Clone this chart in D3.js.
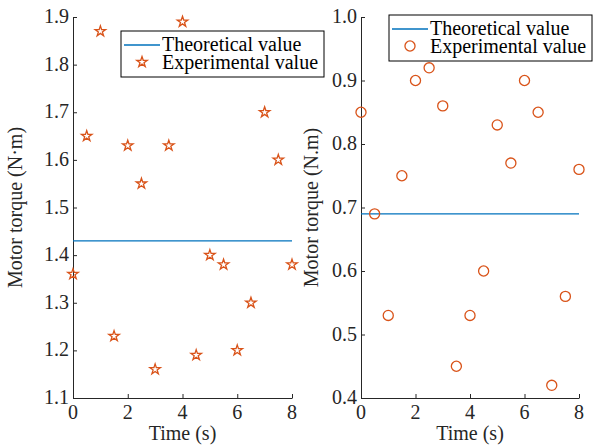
<html>
<head>
<meta charset="UTF-8" />
</head>
<body style="margin:0">
<script src="https://cdn.jsdelivr.net/npm/d3@7"></script>
<script>
var width = 600;
var height = 448;

// data
var time = [0, 0.5, 1, 1.5, 2, 2.5, 3, 3.5, 4, 4.5, 5, 5.5, 6, 6.5, 7, 7.5, 8];
var torqueLeft = [1.36, 1.65, 1.87, 1.23, 1.63, 1.55, 1.16, 1.63, 1.89, 1.19, 1.40, 1.38, 1.20, 1.30, 1.70, 1.60, 1.38];
var theoryLeft = 1.43;
var torqueRight = [0.85, 0.69, 0.53, 0.75, 0.90, 0.92, 0.86, 0.45, 0.53, 0.60, 0.83, 0.77, 0.90, 0.85, 0.42, 0.56, 0.76];
var theoryRight = 0.69;
var xTicks = [0, 2, 4, 6, 8];
var yTicksLeft = [1.1, 1.2, 1.3, 1.4, 1.5, 1.6, 1.7, 1.8, 1.9];
var yTicksRight = [0.4, 0.5, 0.6, 0.7, 0.8, 0.9, 1.0];
var legendLabels = ["Theoretical value", "Experimental value"];

var lineColor = "#0072BD";
var markColor = "#D95319";
var axisColor = "#262626";
var fontFamily = "Times New Roman, Liberation Serif, DejaVu Serif, serif";

var svg = d3.select("body")
			.append("svg")
			.attr("width", width)
			.attr("height", height);

function drawPanel(opt) {
	var x = d3.scaleLinear().domain([0, 8]).range([opt.left, opt.right]);
	var y = d3.scaleLinear().domain(opt.yDomain).range([398, 17]);
	var g = svg.append("g");

	// axes: d3 draws the lines, the labels are written below as plain texts
	g.append("g")
	 .attr("transform", "translate(0,398)")
	 .call(d3.axisBottom(x).tickValues(xTicks).tickSizeInner(-4).tickSizeOuter(0).tickFormat(""))
	 .call(a => a.selectAll("path, line").attr("stroke", axisColor));
	g.append("g")
	 .attr("transform", "translate(" + opt.left + ",0)")
	 .call(d3.axisLeft(y).tickValues(opt.yTicks).tickSizeInner(-4).tickSizeOuter(0).tickFormat(""))
	 .call(a => a.selectAll("path, line").attr("stroke", axisColor));

	g.selectAll(".xl")
	 .data(xTicks)
	 .enter()
	 .append("text")
	 .attr("x", d => x(d))
	 .attr("y", 419)
	 .attr("text-anchor", "middle")
	 .attr("font-family", fontFamily)
	 .attr("font-size", 20)
	 .attr("fill", axisColor)
	 .text(d => d);
	g.selectAll(".yl")
	 .data(opt.yTicks)
	 .enter()
	 .append("text")
	 .attr("x", opt.left - 4)
	 .attr("y", d => y(d) + 6)
	 .attr("text-anchor", "end")
	 .attr("font-family", fontFamily)
	 .attr("font-size", 20)
	 .attr("fill", axisColor)
	 .text(d => d3.format(".1f")(d));

	// axis titles
	g.append("text")
	 .attr("x", (opt.left + opt.right) / 2)
	 .attr("y", 440)
	 .attr("text-anchor", "middle")
	 .attr("font-family", fontFamily)
	 .attr("font-size", 20)
	 .attr("fill", axisColor)
	 .text("Time (s)");
	g.append("text")
	 .attr("transform", "translate(" + opt.labelX + "," + ((17 + 398) / 2) + ") rotate(-90)")
	 .attr("text-anchor", "middle")
	 .attr("font-family", fontFamily)
	 .attr("font-size", 20)
	 .attr("fill", axisColor)
	 .text(opt.yLabel);

	// theoretical line
	g.append("line")
	 .attr("x1", x(0)).attr("x2", x(8))
	 .attr("y1", y(opt.theory)).attr("y2", y(opt.theory))
	 .attr("stroke", lineColor)
	 .attr("stroke-width", 1.3);

	// experimental points
	g.append("g")
	 .selectAll("path")
	 .data(time)
	 .enter()
	 .append("path")
	 .attr("transform", (d, i) => "translate(" + x(d) + "," + y(opt.values[i]) + ")")
	 .attr("d", opt.symbol)
	 .attr("fill", "none")
	 .attr("stroke", markColor)
	 .attr("stroke-width", 1.3);

	// legend
	var lg = g.append("g").attr("transform", "translate(" + opt.legend[0] + "," + opt.legend[1] + ")");
	lg.append("rect")
	  .attr("width", 203).attr("height", 46)
	  .attr("fill", "#fff")
	  .attr("stroke", "#000")
	  .attr("stroke-width", 1);
	lg.append("line")
	  .attr("x1", 3).attr("x2", 39).attr("y1", 14).attr("y2", 14)
	  .attr("stroke", lineColor).attr("stroke-width", 1.3);
	lg.append("path")
	  .attr("transform", "translate(21,31)")
	  .attr("d", opt.symbol)
	  .attr("fill", "none")
	  .attr("stroke", markColor)
	  .attr("stroke-width", 1.3);
	lg.selectAll(".lab")
	  .data(legendLabels)
	  .enter()
	  .append("text")
	  .attr("x", 41)
	  .attr("y", (d, i) => 20 + i * 18)
	  .attr("font-family", fontFamily)
	  .attr("font-size", 20)
	  .attr("fill", "#000")
	  .text(d => d);
}

drawPanel({
	left: 73, right: 292,
	yDomain: [1.1, 1.9], yTicks: yTicksLeft,
	values: torqueLeft, theory: theoryLeft,
	symbol: d3.symbol().type(d3.symbolStar).size(34)(),
	yLabel: "Motor torque (N\u00b7m)", labelX: 22,
	legend: [121, 31]
});

drawPanel({
	left: 361, right: 579,
	yDomain: [0.4, 1.0], yTicks: yTicksRight,
	values: torqueRight, theory: theoryRight,
	symbol: d3.symbol().type(d3.symbolCircle).size(80)(),
	yLabel: "Motor torque (N.m)", labelX: 318,
	legend: [389, 15]
});
</script>
</body>
</html>
